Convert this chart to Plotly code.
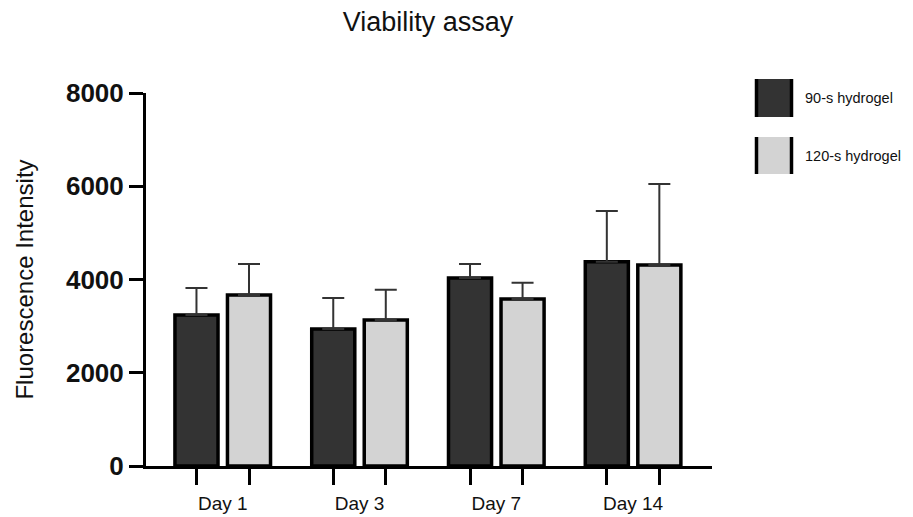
import plotly.graph_objects as go

days = ["Day 1", "Day 3", "Day 7", "Day 14"]
series_names = ["90-s hydrogel", "120-s hydrogel"]
mean_90 = [3240, 2940, 4030, 4380]
err_90 = [580, 665, 305, 1090]
mean_120 = [3670, 3130, 3580, 4310]
err_120 = [665, 650, 350, 1740]
y_ticks = [0, 2000, 4000, 6000, 8000]

colors = ["#333333", "#d3d3d3"]
means = [mean_90, mean_120]
errs = [err_90, err_120]

xpos = list(range(len(days)))
fig = go.Figure()
for name, m, e, c in zip(series_names, means, errs, colors):
    fig.add_trace(go.Bar(
        x=xpos, y=m, name=name, showlegend=False,
        marker=dict(color=c, line=dict(color="black", width=3.5)),
        error_y=dict(type="data", array=e, arrayminus=[0] * len(e), symmetric=False,
                     color="#333333", thickness=2, width=11),
    ))

bargap = 0.232
slot = (1 - bargap) / 2
minor_vals = []
for i in xpos:
    minor_vals += [i - slot / 2, i + slot / 2]

# page offset (browser body margin)
OFF = 8
W, H = 913 - OFF, 517 - OFF
# plot area in page pixels
L, R, T, B = 146 - OFF, 712 - OFF, 93 - OFF, 466 - OFF

def px(x):
    return (x - OFF - L) / (R - L)

def py(y):
    return (B - (y - OFF)) / (B - T)

shapes = []
annotations = []
legend_boxes = [(79, 117), (137, 174)]
for name, c, (y0, y1) in zip(series_names, colors, legend_boxes):
    shapes.append(dict(type="rect", xref="paper", yref="paper",
                       x0=px(755), x1=px(793), y0=py(y1), y1=py(y0),
                       fillcolor=c, line=dict(width=0)))
    for xe in (756.5, 791.5):
        shapes.append(dict(type="line", xref="paper", yref="paper",
                           x0=px(xe), x1=px(xe), y0=py(y1), y1=py(y0),
                           line=dict(color="black", width=3.5)))
    annotations.append(dict(xref="paper", yref="paper", x=px(803), y=py((y0 + y1) / 2),
                            text=name, showarrow=False, xanchor="left", yanchor="middle",
                            font=dict(family="Liberation Sans, Arial", size=14.5, color="#111111")))

fig.update_layout(
    width=W, height=H,
    margin=dict(l=L, r=W - R, t=T, b=H - B, autoexpand=False),
    paper_bgcolor="white", plot_bgcolor="white",
    barmode="group", bargap=bargap, bargroupgap=0.18,
    title=dict(text="Viability assay", x=(428 - OFF) / W, y=1 - (22 - OFF) / H,
               xref="container", yref="container",
               xanchor="center", yanchor="middle",
               font=dict(family="Liberation Sans, Arial", size=27, color="#111111")),
    font=dict(family="Liberation Sans, Arial", color="#111111"),
    shapes=shapes, annotations=annotations,
)
fig.update_xaxes(
    range=[-0.561, 3.577], tickmode="array", tickvals=xpos, ticktext=days,
    ticks="outside", ticklen=18, tickcolor="rgba(0,0,0,0)", automargin=False,
    tickfont=dict(size=19, color="#111111"),
    showline=True, linecolor="black", linewidth=3, showgrid=False, zeroline=False,
    minor=dict(tickmode="array", tickvals=minor_vals, ticks="outside", ticklen=16,
               tickwidth=3, tickcolor="black", showgrid=False),
)
fig.update_yaxes(
    range=[0, 8000], tickmode="array", tickvals=y_ticks, automargin=False,
    ticks="outside", ticklen=14, tickwidth=3, tickcolor="black",
    tickfont=dict(size=26, weight="bold", color="#111111"),
    showline=True, linecolor="black", linewidth=3, showgrid=False, zeroline=False,
    title=dict(text="Fluorescence Intensity", standoff=26,
               font=dict(size=24, color="#111111")),
)
fig.write_html("out.html")
